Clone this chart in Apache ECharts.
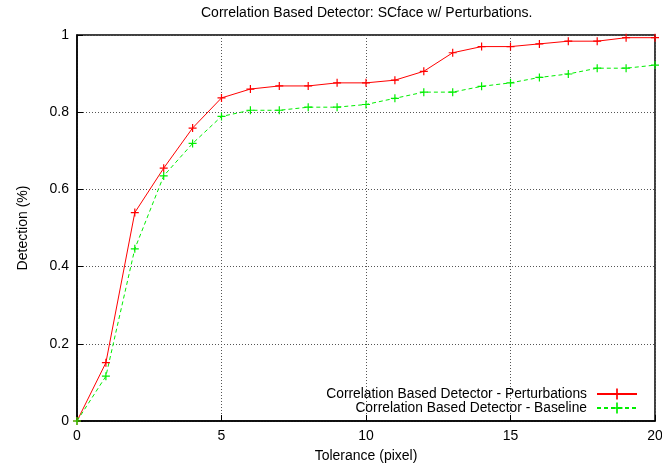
<!DOCTYPE html>
<html>
<head>
<meta charset="utf-8">
<script src="https://cdn.jsdelivr.net/npm/echarts@6/dist/echarts.min.js"></script>
<style>
  html, body { margin: 0; padding: 0; background: #fff; }
  #chart { width: 662px; height: 466px; }
</style>
</head>
<body>
<div id="chart"></div>
<script>
// tolerance in pixels
const tolerance = [0, 1, 2, 3, 4, 5, 6, 7, 8, 9, 10, 11, 12, 13, 14, 15, 16, 17, 18, 19, 20]

const perturbations = [0, 0.151, 0.540, 0.655, 0.759, 0.837, 0.860, 0.868, 0.868, 0.876, 0.876,
  0.883, 0.906, 0.954, 0.970, 0.970, 0.977, 0.984, 0.984, 0.993, 0.993]

const baseline = [0, 0.116, 0.446, 0.635, 0.719, 0.789, 0.805, 0.805, 0.813, 0.813, 0.820,
  0.836, 0.852, 0.852, 0.867, 0.876, 0.890, 0.899, 0.914, 0.914, 0.922]

const seriesNames = ['Correlation Based Detector - Perturbations', 'Correlation Based Detector - Baseline']

// gnuplot style "+" point
const PLUS = 'path://M3.4,0H4.6V3.4H8V4.6H4.6V8H3.4V4.6H0V3.4H3.4Z'
const FONT = 'Liberation Sans'

const chart = echarts.init(document.getElementById('chart'))

function makeSeries(name, data, color, dashed) {
  return {
    name,
    type: 'line',
    data: tolerance.map((x, i) => [x, data[i]]),
    symbol: PLUS,
    symbolSize: 8,
    showSymbol: true,
    color,
    itemStyle: { color },
    lineStyle: { color, width: 1, type: dashed ? [4, 3] : 'solid' },
    animation: false,
  }
}

const gridLine = { show: true, lineStyle: { color: '#555', type: [1, 2], width: 1 } }

chart.setOption({
  textStyle: { fontFamily: FONT },
  title: {
    text: 'Correlation Based Detector: SCface w/ Perturbations.',
    left: 196,
    top: 1,
    textStyle: { fontFamily: FONT, fontSize: 14, fontWeight: 'normal', color: '#000' },
  },
  legend: {
    orient: 'vertical',
    right: 19,
    top: 382,
    align: 'right',
    itemWidth: 40,
    itemHeight: 14,
    itemGap: 0,
    data: seriesNames,
    textStyle: { fontFamily: FONT, fontSize: 13.8, lineHeight: 14, color: '#000', padding: [0, 5, 0, 0] },
    selectedMode: false,
  },
  grid: {
    left: 77, right: 7, top: 35, bottom: 45,
    outerBoundsMode: 'none',
    show: true, borderColor: '#000', borderWidth: 1.5,
  },
  xAxis: [{
    type: 'value',
    min: 0,
    max: 20,
    interval: 5,
    name: 'Tolerance (pixel)',
    nameLocation: 'middle',
    nameGap: 28,
    nameTextStyle: { fontFamily: FONT, fontSize: 14, color: '#000' },
    axisLine: { lineStyle: { color: '#000', width: 1.5 } },
    axisTick: { inside: true, length: 6, lineStyle: { color: '#000' } },
    axisLabel: { fontFamily: FONT, fontSize: 14, color: '#000', margin: 8 },
    splitLine: gridLine,
  }],
  yAxis: [{
    type: 'value',
    min: 0,
    max: 1,
    interval: 0.2,
    name: 'Detection (%)',
    nameLocation: 'middle',
    nameGap: 47,
    nameTextStyle: { fontFamily: FONT, fontSize: 14, color: '#000' },
    axisLine: { show: true, lineStyle: { color: '#000', width: 1.5 } },
    axisTick: { show: true, inside: true, length: 6, lineStyle: { color: '#000' } },
    axisLabel: { fontFamily: FONT, fontSize: 14, color: '#000', margin: 8 },
    splitLine: gridLine,
  }],
  series: [
    makeSeries(seriesNames[0], perturbations, '#ff0000', false),
    makeSeries(seriesNames[1], baseline, '#00ee00', true),
  ],
})
</script>
</body>
</html>
